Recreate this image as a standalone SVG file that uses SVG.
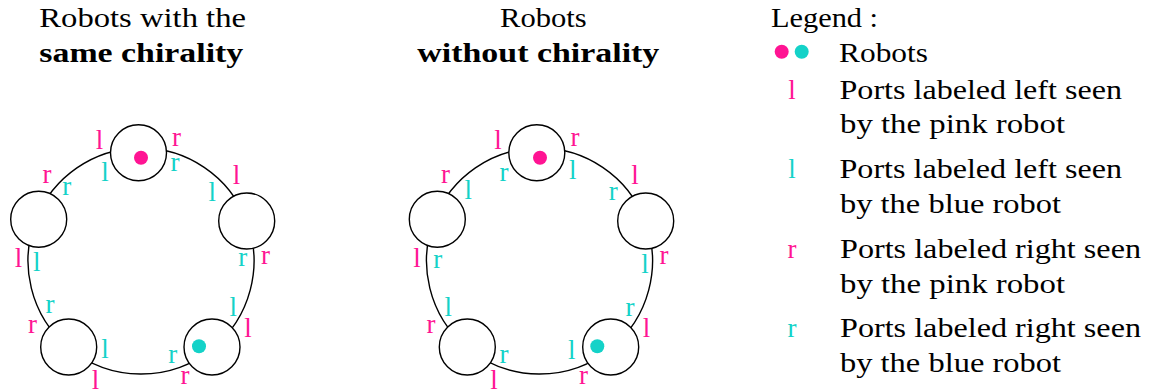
<svg xmlns="http://www.w3.org/2000/svg" width="1151" height="392" viewBox="0 0 1151 392" font-family="'Liberation Serif', 'Times New Roman', Times, serif">
<style>
text{font-family:'Liberation Serif','Times New Roman',Times,serif;font-size:27px;fill:#000}
.b{font-weight:bold}
.node{fill:#fff;stroke:#000;stroke-width:1.4}
.ring{fill:none;stroke:#000;stroke-width:1.4}
.pk{fill:#ff1493}
.cy{fill:#14d2c8}
.lb{text-anchor:middle}
</style>
<rect width="1151" height="392" fill="#fff"/>
<g id="titles" font-family="'Liberation Serif', serif">
<text x="39.3" y="27.3" textLength="206.7" lengthAdjust="spacingAndGlyphs">Robots with the</text>
<text class="b" x="39.3" y="61.5" textLength="204" lengthAdjust="spacingAndGlyphs">same chirality</text>
<text x="500" y="27.3" textLength="86.7" lengthAdjust="spacingAndGlyphs">Robots</text>
<text class="b" x="417.3" y="61.5" textLength="242" lengthAdjust="spacingAndGlyphs">without chirality</text>
</g>
<g id="chiral">
<g id="chiral-connectors">
<path class="ring" d="M138.4,148 A113,113 0 0 0 36.4,218.3"/>
<path class="ring" d="M36.4,218.3 A113,113 0 0 0 68.3,347.5"/>
<path class="ring" d="M68.3,347.5 A113,113 0 0 0 212.9,348.2"/>
<path class="ring" d="M212.9,348.2 A113,113 0 0 0 246.7,221.1"/>
<path class="ring" d="M246.7,221.1 A113,113 0 0 0 138.4,148"/>
</g>
<g id="chiral-n-top"><circle class="node" cx="138.5" cy="152.7" r="28"/><circle class="pk" cx="141" cy="157.7" r="7"/></g>
<g id="chiral-n-left"><circle class="node" cx="38.7" cy="219.3" r="28"/></g>
<g id="chiral-n-bl"><circle class="node" cx="68.7" cy="347" r="28"/></g>
<g id="chiral-n-br"><circle class="node" cx="212" cy="347" r="28"/><circle class="cy" cx="199" cy="346.3" r="7"/></g>
<g id="chiral-n-right"><circle class="node" cx="246.7" cy="221" r="28"/></g>
<g id="chiral-labels" class="lb" font-family="'Liberation Serif', serif">
<text class="pk" x="99.5" y="149.2">l</text>
<text class="pk" x="176.5" y="146.2">r</text>
<text class="pk" x="47" y="182.9">r</text>
<text class="pk" x="236.5" y="184.2">l</text>
<text class="pk" x="18.5" y="267.2">l</text>
<text class="pk" x="265.5" y="264.2">r</text>
<text class="pk" x="32.5" y="332.7">r</text>
<text class="pk" x="248" y="337.2">l</text>
<text class="pk" x="95.5" y="389">l</text>
<text class="pk" x="185" y="384.2">r</text>
<text class="cy" x="105" y="180.9">l</text>
<text class="cy" x="175" y="171.2">r</text>
<text class="cy" x="66.7" y="195.2">r</text>
<text class="cy" x="212.3" y="200.9">l</text>
<text class="cy" x="36.7" y="270.9">l</text>
<text class="cy" x="242.7" y="266.2">r</text>
<text class="cy" x="50" y="313.2">r</text>
<text class="cy" x="233.3" y="315.9">l</text>
<text class="cy" x="105" y="358.2">l</text>
<text class="cy" x="172.7" y="362.9">r</text>
</g>
</g>
<g id="nochiral" transform="translate(398.5,0)">
<g id="nochiral-connectors">
<path class="ring" d="M138.4,148 A113,113 0 0 0 36.4,218.3"/>
<path class="ring" d="M36.4,218.3 A113,113 0 0 0 68.3,347.5"/>
<path class="ring" d="M68.3,347.5 A113,113 0 0 0 212.9,348.2"/>
<path class="ring" d="M212.9,348.2 A113,113 0 0 0 246.7,221.1"/>
<path class="ring" d="M246.7,221.1 A113,113 0 0 0 138.4,148"/>
</g>
<g id="nochiral-n-top"><circle class="node" cx="138.3" cy="152.7" r="28"/><circle class="pk" cx="141.5" cy="157.7" r="7"/></g>
<g id="nochiral-n-left"><circle class="node" cx="38.8" cy="219.3" r="28"/></g>
<g id="nochiral-n-bl"><circle class="node" cx="68.8" cy="347" r="28"/></g>
<g id="nochiral-n-br"><circle class="node" cx="212.2" cy="347" r="28"/><circle class="cy" cx="198.8" cy="346.3" r="7"/></g>
<g id="nochiral-n-right"><circle class="node" cx="247.2" cy="221" r="28"/></g>
<g id="nochiral-labels" class="lb" font-family="'Liberation Serif', serif">
<text class="pk" x="99.5" y="149.2">l</text>
<text class="pk" x="176.5" y="146.2">r</text>
<text class="pk" x="47" y="182.9">r</text>
<text class="pk" x="236.5" y="184.2">l</text>
<text class="pk" x="18.5" y="267.2">l</text>
<text class="pk" x="265.5" y="264.2">r</text>
<text class="pk" x="32.5" y="332.7">r</text>
<text class="pk" x="248" y="337.2">l</text>
<text class="pk" x="95.5" y="389">l</text>
<text class="pk" x="185" y="384.2">r</text>
<text class="cy" x="105.5" y="181.2">r</text>
<text class="cy" x="174.2" y="179.2">l</text>
<text class="cy" x="69.8" y="199.2">l</text>
<text class="cy" x="214.8" y="199.5">r</text>
<text class="cy" x="39.2" y="267.9">r</text>
<text class="cy" x="246.5" y="273.2">l</text>
<text class="cy" x="49.8" y="315.9">l</text>
<text class="cy" x="231.5" y="316.2">r</text>
<text class="cy" x="105.5" y="362.9">r</text>
<text class="cy" x="173.2" y="359.2">l</text>
</g>
</g>
<g id="legend" font-family="'Liberation Serif', serif">
<text x="771" y="27" textLength="107" lengthAdjust="spacingAndGlyphs">Legend :</text>
<circle class="pk" cx="781.7" cy="51.7" r="7"/>
<circle class="cy" cx="801.7" cy="51.7" r="7"/>
<text x="839" y="62" textLength="89" lengthAdjust="spacingAndGlyphs">Robots</text>
<text class="pk lb" x="792" y="99">l</text>
<text x="839.5" y="99" textLength="282.5" lengthAdjust="spacingAndGlyphs">Ports labeled left seen</text>
<text x="840" y="133" textLength="225" lengthAdjust="spacingAndGlyphs">by the pink robot</text>
<text class="cy lb" x="792" y="178">l</text>
<text x="839.5" y="178" textLength="282.5" lengthAdjust="spacingAndGlyphs">Ports labeled left seen</text>
<text x="840" y="213" textLength="221" lengthAdjust="spacingAndGlyphs">by the blue robot</text>
<text class="pk lb" x="792" y="258">r</text>
<text x="840" y="258" textLength="301" lengthAdjust="spacingAndGlyphs">Ports labeled right seen</text>
<text x="840" y="293" textLength="225" lengthAdjust="spacingAndGlyphs">by the pink robot</text>
<text class="cy lb" x="792" y="337">r</text>
<text x="840" y="337" textLength="301" lengthAdjust="spacingAndGlyphs">Ports labeled right seen</text>
<text x="840" y="372" textLength="221" lengthAdjust="spacingAndGlyphs">by the blue robot</text>
</g>
</svg>
